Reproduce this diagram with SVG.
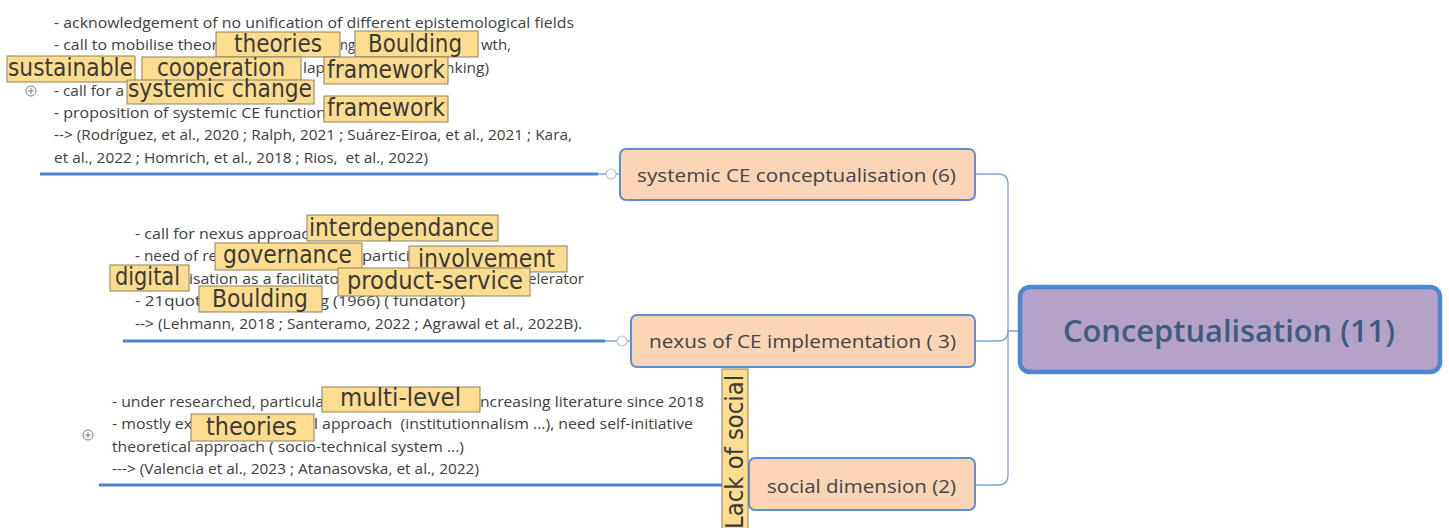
<svg xmlns="http://www.w3.org/2000/svg" width="1449" height="528" viewBox="0 0 1449 528">
<style>
.body{font-family:"Open Sans","Noto Sans","Liberation Sans",sans-serif;font-size:14px;fill:#404040;white-space:pre}
.node{fill:#fbd5b6;stroke:#5b8ed6;stroke-width:2}
.ntxt{font-family:"Open Sans","Noto Sans","Liberation Sans",sans-serif;font-size:19px;fill:#444}
.main{fill:#b5a2c9;stroke:#4f86d0;stroke-width:4.5}
.mtxt{font-family:"Open Sans","Noto Sans","Liberation Sans",sans-serif;font-size:31px;font-weight:600;fill:#3e5b80}
.lbox{fill:#fedd90;stroke:#8e805f;stroke-width:1}
.lab{font-family:"DejaVu Sans Condensed","DejaVu Sans",sans-serif;font-size:25px;fill:#3a3a3a}
.thick{stroke:#4d84cf;stroke-width:3;fill:none}
.thin{stroke:#7ba4dc;stroke-width:1.3;fill:none}
.knob{fill:#fff;stroke:#b3c6e2;stroke-width:1.2}
.plus{fill:#fff;stroke:#808080;stroke-width:1}
</style>

<g id="connectors">
  <path class="thin" d="M976,174 H998 Q1008,174 1008,184 V475 Q1008,485 998,485 H976"/>
  <path class="thin" d="M976,341 H998 Q1008,341 1008,331 H1020"/>
  <path class="thick" d="M40,174 H598"/>
  <path class="thin" d="M598,174 H606 M616,174 H620"/>
  <circle class="knob" cx="611" cy="174" r="5"/>
  <path class="thick" d="M123,341 H605"/>
  <path class="thin" d="M605,341 H617 M627,341 H631"/>
  <circle class="knob" cx="622" cy="341" r="5"/>
  <path class="thick" d="M99,485 H749"/>
</g>

<g id="node-main">
  <rect class="main" x="1020" y="287" width="420" height="85" rx="10"/>
  <text class="mtxt" x="1063" y="342" textLength="332" lengthAdjust="spacingAndGlyphs">Conceptualisation (11)</text>
</g>

<g id="node-systemic">
  <rect class="node" x="620" y="149" width="355" height="51" rx="6"/>
  <text class="ntxt" x="637" y="182" textLength="319" lengthAdjust="spacingAndGlyphs">systemic CE conceptualisation (6)</text>
</g>

<g id="node-nexus">
  <rect class="node" x="631" y="315" width="344" height="52" rx="6"/>
  <text class="ntxt" x="649" y="348" textLength="307" lengthAdjust="spacingAndGlyphs">nexus of CE implementation ( 3)</text>
</g>

<g id="node-social">
  <rect class="node" x="749" y="458" width="226" height="52" rx="6"/>
  <text class="ntxt" x="767" y="493" textLength="189" lengthAdjust="spacingAndGlyphs">social dimension (2)</text>
</g>

<g id="note-systemic">
  <g class="plus">
    <circle cx="31" cy="91" r="5"/>
    <path d="M28,91 H34 M31,88 V94"/>
  </g>
  <text class="body" x="54" y="28" textLength="520" lengthAdjust="spacingAndGlyphs">- acknowledgement of no unification of different epistemological fields</text>
  <text class="body" x="54" y="50" textLength="164" lengthAdjust="spacingAndGlyphs">- call to mobilise theor</text>
  <text class="body" x="340" y="50" textLength="15" lengthAdjust="spacingAndGlyphs">ng</text>
  <text class="body" x="481" y="50" textLength="30" lengthAdjust="spacingAndGlyphs">wth,</text>
  <text class="body" x="303" y="73" textLength="22" lengthAdjust="spacingAndGlyphs">lap</text>
  <text class="body" x="445" y="73" textLength="44" lengthAdjust="spacingAndGlyphs">nking)</text>
  <text class="body" x="54" y="96" textLength="70" lengthAdjust="spacingAndGlyphs">- call for a</text>
  <text class="body" x="54" y="118" textLength="272" lengthAdjust="spacingAndGlyphs">- proposition of systemic CE function</text>
  <text class="body" x="54" y="140" textLength="518" lengthAdjust="spacingAndGlyphs">--&gt; (Rodríguez, et al., 2020 ; Ralph, 2021 ; Suárez-Eiroa, et al., 2021 ; Kara,</text>
  <text class="body" x="54" y="163" textLength="374" lengthAdjust="spacingAndGlyphs">et al., 2022 ; Homrich, et al., 2018 ; Rios,  et al., 2022)</text>
</g>

<g id="note-nexus">
  <text class="body" x="135" y="239" textLength="174" lengthAdjust="spacingAndGlyphs">- call for nexus approac</text>
  <text class="body" x="135" y="261" textLength="82" lengthAdjust="spacingAndGlyphs">- need of re</text>
  <text class="body" x="362" y="261" textLength="48" lengthAdjust="spacingAndGlyphs">partici</text>
  <text class="body" x="189" y="284" textLength="150" lengthAdjust="spacingAndGlyphs">isation as a facilitato</text>
  <text class="body" x="528" y="284" textLength="56" lengthAdjust="spacingAndGlyphs">elerator</text>
  <text class="body" x="135" y="306" textLength="66" lengthAdjust="spacingAndGlyphs">- 21quot</text>
  <text class="body" x="320" y="306" textLength="145" lengthAdjust="spacingAndGlyphs">g (1966) ( fundator)</text>
  <text class="body" x="135" y="329" textLength="447" lengthAdjust="spacingAndGlyphs">--&gt; (Lehmann, 2018 ; Santeramo, 2022 ; Agrawal et al., 2022B).</text>
</g>

<g id="note-social">
  <g class="plus">
    <circle cx="88" cy="435" r="5"/>
    <path d="M85,435 H91 M88,432 V438"/>
  </g>
  <text class="body" x="112" y="407" textLength="212" lengthAdjust="spacingAndGlyphs">- under researched, particula</text>
  <text class="body" x="480" y="407" textLength="224" lengthAdjust="spacingAndGlyphs">ncreasing literature since 2018</text>
  <text class="body" x="112" y="429" textLength="80" lengthAdjust="spacingAndGlyphs">- mostly ex</text>
  <text class="body" x="314" y="429" textLength="379" lengthAdjust="spacingAndGlyphs">l approach  (institutionnalism ...), need self-initiative</text>
  <text class="body" x="112" y="452" textLength="352" lengthAdjust="spacingAndGlyphs">theoretical approach ( socio-technical system ...)</text>
  <text class="body" x="112" y="474" textLength="367" lengthAdjust="spacingAndGlyphs">---&gt; (Valencia et al., 2023 ; Atanasovska, et al., 2022)</text>
</g>

<g id="labels">
  <g id="label-theories-1"><rect class="lbox" x="216" y="32" width="124" height="25"/><text class="lab" x="234" y="52" textLength="88" lengthAdjust="spacingAndGlyphs">theories</text></g>
  <g id="label-boulding-1"><rect class="lbox" x="355" y="31" width="123" height="26"/><text class="lab" x="368" y="52" textLength="94" lengthAdjust="spacingAndGlyphs">Boulding</text></g>
  <g id="label-sustainable"><rect class="lbox" x="7" y="56" width="128" height="26"/><text class="lab" x="8" y="76" textLength="125" lengthAdjust="spacingAndGlyphs">sustainable</text></g>
  <g id="label-cooperation"><rect class="lbox" x="142" y="57" width="159" height="25"/><text class="lab" x="157" y="76" textLength="128" lengthAdjust="spacingAndGlyphs">cooperation</text></g>
  <g id="label-framework-1"><rect class="lbox" x="324" y="57" width="124" height="27"/><text class="lab" x="327" y="78" textLength="118" lengthAdjust="spacingAndGlyphs">framework</text></g>
  <g id="label-systemic-change"><rect class="lbox" x="127" y="80" width="187" height="24"/><text class="lab" x="128" y="97" textLength="184" lengthAdjust="spacingAndGlyphs">systemic change</text></g>
  <g id="label-framework-2"><rect class="lbox" x="324" y="96" width="124" height="26"/><text class="lab" x="327" y="116" textLength="118" lengthAdjust="spacingAndGlyphs">framework</text></g>

  <g id="label-interdependance"><rect class="lbox" x="307" y="215" width="191" height="26"/><text class="lab" x="309" y="236" textLength="185" lengthAdjust="spacingAndGlyphs">interdependance</text></g>
  <g id="label-governance"><rect class="lbox" x="215" y="243" width="147" height="27"/><text class="lab" x="223" y="263" textLength="129" lengthAdjust="spacingAndGlyphs">governance</text></g>
  <g id="label-involvement"><rect class="lbox" x="409" y="246" width="158" height="26"/><text class="lab" x="418" y="267" textLength="137" lengthAdjust="spacingAndGlyphs">involvement</text></g>
  <g id="label-digital"><rect class="lbox" x="110" y="265" width="79" height="26"/><text class="lab" x="115" y="285" textLength="65" lengthAdjust="spacingAndGlyphs">digital</text></g>
  <g id="label-product-service"><rect class="lbox" x="338" y="268" width="192" height="28"/><text class="lab" x="347" y="289" textLength="176" lengthAdjust="spacingAndGlyphs">product-service</text></g>
  <g id="label-boulding-2"><rect class="lbox" x="199" y="286" width="123" height="26"/><text class="lab" x="212" y="307" textLength="96" lengthAdjust="spacingAndGlyphs">Boulding</text></g>

  <g id="label-multi-level"><rect class="lbox" x="322" y="387" width="158" height="25"/><text class="lab" x="340" y="406" textLength="121" lengthAdjust="spacingAndGlyphs">multi-level</text></g>
  <g id="label-theories-2"><rect class="lbox" x="191" y="414" width="123" height="27"/><text class="lab" x="206" y="435" textLength="91" lengthAdjust="spacingAndGlyphs">theories</text></g>
  <g id="label-lack-of-social"><rect class="lbox" x="722" y="369" width="26" height="165"/><text class="lab" transform="translate(743,529) rotate(-90)" x="0" y="0" textLength="154" lengthAdjust="spacingAndGlyphs">Lack of social</text></g>
</g>
</svg>
